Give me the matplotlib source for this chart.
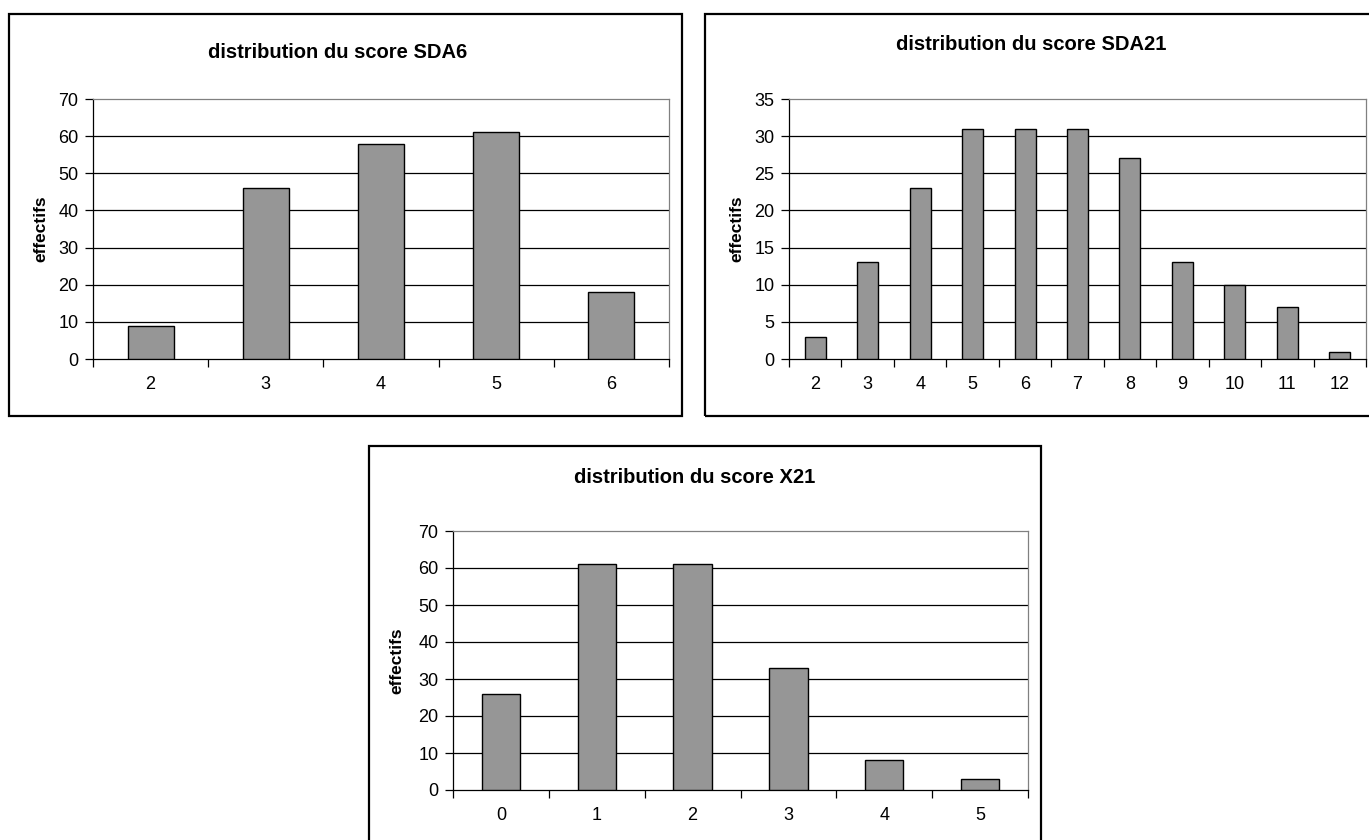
import numpy as np
import matplotlib
matplotlib.use('Agg')
import matplotlib.pyplot as plt
from matplotlib.patches import Rectangle

plt.rcParams['font.family'] = ['Liberation Sans', 'DejaVu Sans']

# score distributions (effectifs per score value)
sda6_scores = ['2', '3', '4', '5', '6']
sda6_counts = [9, 46, 58, 61, 18]

sda21_scores = ['2', '3', '4', '5', '6', '7', '8', '9', '10', '11', '12']
sda21_counts = [3, 13, 23, 31, 31, 31, 27, 13, 10, 7, 1]

x21_scores = ['0', '1', '2', '3', '4', '5']
x21_counts = [26, 61, 61, 33, 8, 3]

W, H = 1369, 840


def frac(l, t, r, b):
    return [l / W, 1 - b / H, (r - l) / W, (b - t) / H]


def panel(fig, box, area, title, title_x, title_y, label_x, scores, counts, ymax, ystep):
    # outer frame of the chart
    l, t, r, b = box
    fig.patches.append(Rectangle((l / W, 1 - b / H), (r - l) / W, (b - t) / H,
                                 transform=fig.transFigure, fill=False,
                                 edgecolor='black', linewidth=1.6))
    fig.text(title_x / W, 1 - title_y / H, title, ha='center', va='baseline',
             fontsize=14.5, fontweight='bold')

    ax = fig.add_axes(frac(*area))
    x = np.arange(len(scores))
    yticks = np.arange(0, ymax + ystep, ystep)
    for yv in yticks[1:-1]:
        ax.axhline(yv, color='black', linewidth=0.9, zorder=1)
    ax.bar(x, counts, width=0.4, color='#969696', edgecolor='black',
           linewidth=1.0, zorder=3)

    ax.set_xlim(-0.5, len(scores) - 0.5)
    ax.set_ylim(0, ymax)
    ax.set_yticks(yticks)
    ax.set_xticks(x)
    ax.set_xticklabels(scores)
    ax.set_xticks(np.arange(len(scores) + 1) - 0.5, minor=True)
    ax.tick_params(axis='x', which='major', length=0, pad=12, labelsize=13)
    ax.tick_params(axis='x', which='minor', length=6, width=0.9, direction='out')
    ax.tick_params(axis='y', length=6, width=0.9, pad=4.5, labelsize=13)

    for side in ['top', 'right']:
        ax.spines[side].set_color('#808080')
        ax.spines[side].set_linewidth(0.9)
    for side in ['left', 'bottom']:
        ax.spines[side].set_linewidth(0.9)

    fig.text(label_x / W, 1 - (area[1] + area[3]) / 2 / H, 'effectifs',
             rotation=90, ha='center', va='center', fontsize=12.5, fontweight='bold')
    return ax


fig = plt.figure(figsize=(W / 100, H / 100), dpi=100)

panel(fig, (9, 14, 682, 416), (93, 99, 669, 359), 'distribution du score SDA6', 338, 58, 41,
      sda6_scores, sda6_counts, 70, 10)
panel(fig, (705, 14, 1372, 416), (789, 99, 1366, 359), 'distribution du score SDA21', 1031, 50, 737,
      sda21_scores, sda21_counts, 35, 5)
panel(fig, (369, 446, 1041, 845), (453, 531, 1028, 790), 'distribution du score X21', 695, 483, 397,
      x21_scores, x21_counts, 70, 10)

fig.savefig('out.png', dpi=100)
